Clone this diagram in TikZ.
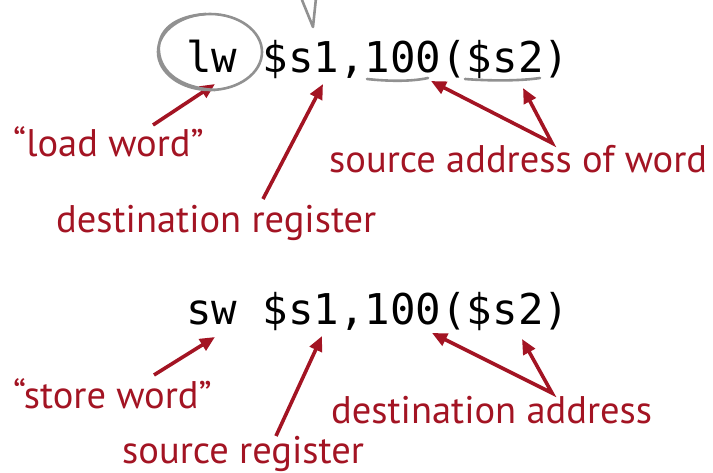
\documentclass[tikz,border=0pt]{standalone}
\usepackage{fontspec}
\setmainfont{PT Sans}
\setmonofont{DejaVu Sans Mono}
\usetikzlibrary{arrows.meta}

\definecolor{slidered}{RGB}{163,20,35}
\definecolor{pengrey}{RGB}{145,145,145}

\begin{document}
\begin{tikzpicture}[
    x=1pt, y=-1pt,
    code/.style={anchor=base west, inner sep=0pt, font=\fontsize{42.4}{44}\selectfont\ttfamily},
    note/.style={anchor=base west, inner sep=0pt, text=slidered, font=\fontsize{38.5}{40}\selectfont},
    arrow/.style={-{Triangle[length=15pt,width=13pt]}, line width=3.6pt, draw=slidered},
    fork/.style={{Triangle[length=15pt,width=13pt]}-{Triangle[length=15pt,width=13pt]}, line width=3.6pt, draw=slidered, line join=miter},
    pen/.style={draw=pengrey, line width=2.6pt, line cap=round, line join=round}
]
\useasboundingbox (0,0) rectangle (713,473);
\clip (0,0) rectangle (713,473);

% Code lines
\node (lwcode) [code] at (186,73) {lw \$s1,100(\$s2)};
\node (swcode) [code] at (186,325) {sw \$s1,100(\$s2)};

% Labels
\node (loadw) [note] at (13,157) {“load word”};
\node (destreg) [note] at (56,233) {destination register};
\node (srcaddr) [note] at (329,173) {source address of word};
\node (storew) [note] at (13,408) {“store word”};
\node (srcreg) [note] at (122,463) {source register};
\node (destaddr) [note] at (331,423) {destination address};

% Arrow ends
\coordinate (lwtip) at (215,84);
\coordinate (lwtail) at (153,125);
\coordinate (rdtip) at (323,84);
\coordinate (rdtail) at (263,199);
\coordinate (offtip) at (431,81);
\coordinate (basetip) at (523,88);
\coordinate (srcfork) at (552,143);
\coordinate (swtip) at (215,337);
\coordinate (swtail) at (154,375);
\coordinate (rstip) at (322,336);
\coordinate (rstail) at (276,436);
\coordinate (dofftip) at (432,333);
\coordinate (dbasetip) at (522,339);
\coordinate (dstfork) at (552,393);

% Arrows
\draw [arrow] (lwtail) -- (lwtip);
\draw [arrow] (rdtail) -- (rdtip);
\draw [fork] (offtip) -- (srcfork) -- (basetip);
\draw [arrow] (swtail) -- (swtip);
\draw [arrow] (rstail) -- (rstip);
\draw [fork] (dofftip) -- (dstfork) -- (dbasetip);

% Pen marks
\draw [pen] (210,52) ellipse [x radius=52, y radius=38];
\draw [pen] (206,14) .. controls (175,16) and (157,30) .. (159,52) .. controls (161,72) and (180,88) .. (215,90);
\draw [pen] (367,79) .. controls (385,81) and (410,82) .. (428,78);
\draw [pen] (465,79) .. controls (490,81) and (520,81) .. (540,78);
\draw [pen] (302,0) -- (313,27) -- (316,-2);
\end{tikzpicture}
\end{document}
